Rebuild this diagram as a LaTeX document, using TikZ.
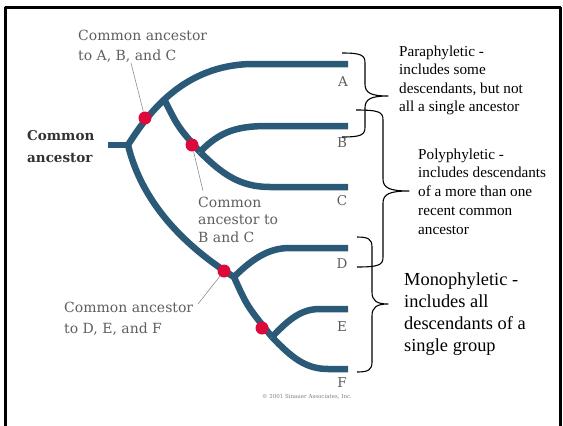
\documentclass[tikz,border=0pt]{standalone}
\usepackage{fontspec}
\setmainfont{Liberation Serif}
\newfontfamily\treefont{DejaVu Serif}
\definecolor{treeblue}{HTML}{2A5A78}
\definecolor{dotred}{HTML}{DC0A3C}
\definecolor{labelgray}{HTML}{5E5E5E}
\tikzset{
  every picture/.style={line join=round},
  branch/.style={draw=treeblue, line width=6.5pt, line cap=butt},
  dot/.style={circle, fill=dotred, inner sep=0pt, minimum size=13pt},
  leader/.style={draw=labelgray!70, line width=0.6pt},
  bracket/.style={draw=black, line width=1.1pt},
  treelabel/.style={font=\treefont\fontsize{14}{20.5}\selectfont, text=labelgray, align=left, inner sep=0pt, anchor=base west},
  leaflabel/.style={font=\treefont\fontsize{13.5}{15}\selectfont, text=labelgray, inner sep=0pt, anchor=base},
  note/.style={align=left, inner sep=0pt, anchor=base west},
}

\begin{document}
\begin{tikzpicture}[x=1pt,y=-1pt]
\useasboundingbox (0,0) rectangle (563,426);
\draw[line width=3pt] (5,426)--(5,7)--(560,7)--(560,426);

% tree
\coordinate (stub) at (108,145);
\coordinate (root) at (128,145);
\coordinate (jA) at (164,99);
\coordinate (endA) at (348,64);
\coordinate (jBC) at (200,152);
\coordinate (endB) at (348,126);
\coordinate (endC) at (348,187);
\coordinate (jDEF) at (234,277);
\coordinate (endD) at (348,248);
\coordinate (jEF) at (272,337);
\coordinate (endE) at (348,309);
\coordinate (endF) at (348,369);
\draw[branch] (stub)--(root);
\draw[branch] (root) .. controls (150,110) and (185,66) .. (250,64)--(endA);
\draw[branch] (jA) .. controls (178,127) .. (jBC);
\draw[branch] (jBC) .. controls (220,131) and (238,126) .. (268,126)--(endB);
\draw[branch] (jBC) .. controls (222,174) and (240,187) .. (270,187)--(endC);
\draw[branch] (root) .. controls (140,195) and (175,240) .. (jDEF);
\draw[branch] (jDEF) .. controls (256,255) and (272,248) .. (290,248)--(endD);
\draw[branch] (jDEF) .. controls (247,306) .. (jEF);
\draw[branch] (jEF) .. controls (290,318) and (302,309) .. (320,309)--(endE);
\draw[branch] (jEF) .. controls (292,358) and (306,369) .. (328,369)--(endF);

% ancestors
\node[dot] (dotABC) at (145,118) {};
\node[dot] (dotBC) at (192,145) {};
\node[dot] (dotDEF) at (224,271) {};
\node[dot] (dotEF) at (262,328) {};

% base anchor sits on the last line
\node[treelabel] (lblABC) at (78,60.5) {Common ancestor\\to A, B, and C};
\node[treelabel, font=\treefont\fontsize{14}{17.5}\selectfont] (lblBC) at (198,242) {Common\\ancestor to\\B and C};
\node[treelabel] (lblDEF) at (64,333) {Common ancestor\\to D, E, and F};
\node[treelabel, font=\treefont\bfseries\fontsize{13.5}{22}\selectfont, text=black!80] (lblRoot) at (27,162) {Common\\ancestor};
\coordinate (tipABC) at (131,63);
\coordinate (tipBC) at (203,191);
\coordinate (tipDEF) at (198,304);
\draw[leader] (dotABC)--(tipABC);
\draw[leader] (dotBC)--(tipBC);
\draw[leader] (dotDEF)--(tipDEF);

\node[leaflabel] (A) at (343,86) {A};
\node[leaflabel] (B) at (342,147) {B};
\node[leaflabel] (C) at (342,205) {C};
\node[leaflabel] (D) at (342,268) {D};
\node[leaflabel] (E) at (342,331) {E};
\node[leaflabel] (F) at (342,387) {F};
\node[font=\treefont\fontsize{5.5}{6}\selectfont, text=labelgray!80] (copy) at (307,397) {© 2001 Sinauer Associates, Inc.};

% groupings
\draw[bracket] (342,53) .. controls (361,53) and (365,55) .. (365,63)--(365,84) .. controls (365,93) and (371,96) .. (388,96) .. controls (371,96) and (365,99) .. (365,108)--(365,127) .. controls (365,135) and (361,137) .. (342,137);
\draw[bracket] (356,110) .. controls (379,110) and (383,112) .. (383,120)--(383,179) .. controls (383,188) and (390,191) .. (409,191) .. controls (390,191) and (383,194) .. (383,203)--(383,257) .. controls (383,265) and (379,267) .. (357,267);
\draw[bracket] (357,237) .. controls (368,237) and (372,239) .. (372,247)--(372,292) .. controls (372,301) and (377,304) .. (388,304) .. controls (377,304) and (372,307) .. (372,316)--(372,362) .. controls (372,370) and (368,372) .. (357,372);

\node[note, font=\fontsize{15.2}{18.5}\selectfont] (para) at (399,111.5) {Paraphyletic -\\includes some\\descendants, but not\\all a single ancestor};
\node[note, font=\fontsize{15.2}{18.7}\selectfont] (poly) at (418,234) {Polyphyletic -\\includes descendants\\of a more than one\\recent common\\ancestor};
\node[note, font=\fontsize{18.4}{22}\selectfont] (mono) at (404,351) {Monophyletic -\\includes all\\descendants of a\\single group};
\end{tikzpicture}
\end{document}
